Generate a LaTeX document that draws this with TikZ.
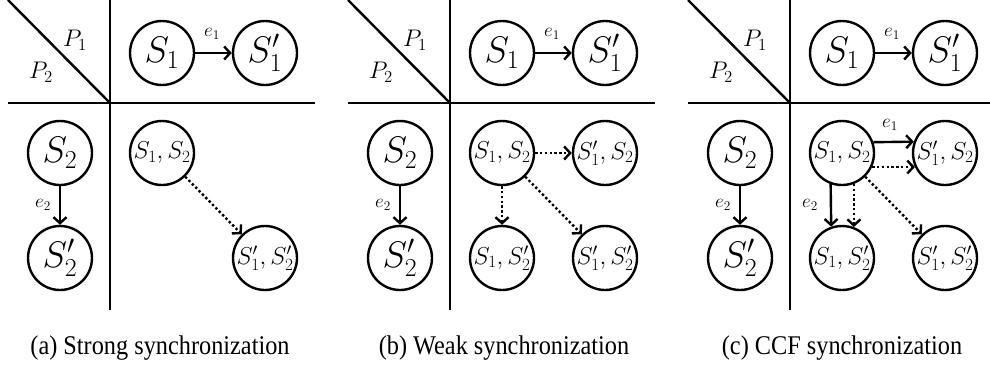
\RequirePackage{fix-cm}
\documentclass[tikz,border=0pt]{standalone}
\usepackage{graphicx}
\usepackage{fontspec}
\newfontfamily\capfont{Liberation Serif}
\usetikzlibrary{arrows.meta}
\tikzset{
  st/.style={circle, draw, line width=2.4pt, minimum size=64pt, inner sep=0pt},
  big/.style={font=\fontsize{37}{40}\selectfont},
  pair/.style={font=\fontsize{24.5}{27}\selectfont},
  plab/.style={font=\fontsize{24}{26}\selectfont, inner sep=0pt},
  lbl/.style={font=\fontsize{19}{21}\selectfont, inner sep=0pt},
  tr/.style={line width=2.4pt, -{Straight Barb[length=6pt,width=13pt]}},
  dtr/.style={tr, dash pattern=on 2.4pt off 2.4pt},
  gridline/.style={line width=2.4pt},
  captext/.style={font=\capfont\fontsize{27}{30}\selectfont, inner sep=0pt, anchor=base},
  header/.pic={
    \coordinate (-top) at (0,0);
    \coordinate (-bot) at (0,310);
    \coordinate (-left) at (-102,103);
    \coordinate (-right) at (205,103);
    \coordinate (-corner) at (0,103);
    \coordinate (-diag) at (-102,0);
    \draw[gridline] (-top) -- (-bot);
    \draw[gridline] (-left) -- (-right);
    \draw[gridline] (-diag) -- (-corner);
    \node[plab] (-p1) at (-35,40) {$P_1$};
    \node[plab] (-p2) at (-69,72) {$P_2$};
    \node[st,big] (-s1) at (52,53) {$S_1$};
    \node[st,big] (-s1p) at (155,53) {$S'_1$};
    \node[st,big] (-s2) at (-50,153) {$S_2$};
    \node[st,big] (-s2p) at (-50,258) {$S'_2$};
    \draw[tr] (-s1) -- (-s1p);
    \draw[tr] (-s2) -- (-s2p);
    \node[lbl] (-e1) at (102,34) {$e_1$};
    \node[lbl] (-e2) at (-67,205) {$e_2$};
  }
}
\begin{document}
\begin{tikzpicture}[x=1pt, y=-1pt]
\useasboundingbox (0,0) rectangle (990,367);
% panel (a)
\pic (a) at (110,0) {header};
\node[st,pair] (a-12) at (162,153) {$S_1,S_2$};
\node[st,pair] (a-1p2p) at (265,258) {$S'_1,S'_2$};
\draw[dtr] (a-12) -- (a-1p2p);
% panel (b)
\pic (b) at (450,0) {header};
\node[st,pair] (b-12) at (502,153) {$S_1,S_2$};
\node[st,pair] (b-1p2) at (605,153) {$S'_1,S_2$};
\node[st,pair] (b-12p) at (502,258) {$S_1,S'_2$};
\node[st,pair] (b-1p2p) at (605,258) {$S'_1,S'_2$};
\draw[dtr] (b-12) -- (b-1p2);
\draw[dtr] (b-12) -- (b-12p);
\draw[dtr] (b-12) -- (b-1p2p);
% panel (c)
\pic (c) at (790,0) {header};
\node[st,pair] (c-12) at (842,153) {$S_1,S_2$};
\node[st,pair] (c-1p2) at (945,153) {$S'_1,S_2$};
\node[st,pair] (c-12p) at (842,258) {$S_1,S'_2$};
\node[st,pair] (c-1p2p) at (945,258) {$S'_1,S'_2$};
\draw[tr] (c-12.19.5) -- (c-1p2.160.5);
\draw[dtr] (c-12.-25) -- (c-1p2.-155);
\draw[tr] (c-12.250.5) -- (c-12p.109.5);
\draw[dtr] (c-12.291) -- (c-12p.69);
\draw[dtr] (c-12) -- (c-1p2p);
\node[lbl] (c-e1b) at (890,125) {$e_1$};
\node[lbl] (c-e2b) at (810,205) {$e_2$};
% captions
\node[captext] (capa) at (160,354.5) {\scalebox{0.9}[1]{(a) Strong synchronization}};
\node[captext] (capb) at (504,354.5) {\scalebox{0.9}[1]{(b) Weak synchronization}};
\node[captext] (capc) at (842,354.5) {\scalebox{0.9}[1]{(c) CCF synchronization}};
\end{tikzpicture}
\end{document}
